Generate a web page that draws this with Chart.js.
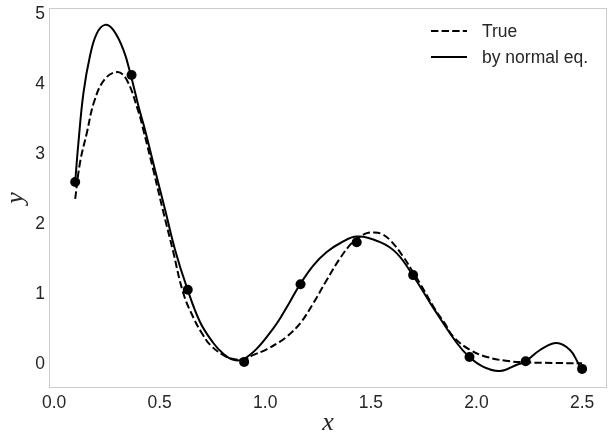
<!DOCTYPE html>
<html>
<head>
<meta charset="utf-8">
<script src="https://cdn.jsdelivr.net/npm/chart.js@4"></script>
<style>
  html, body { margin: 0; padding: 0; background: #fff; }
</style>
</head>
<body>
<canvas id="chart" width="614" height="444"></canvas>
<script>
// sample points
const xPts = [0.1, 0.367, 0.633, 0.9, 1.167, 1.433, 1.7, 1.967, 2.233, 2.5];
const yPts = [2.6, 4.13, 1.06, 0.03, 1.14, 1.74, 1.27, 0.10, 0.04, -0.07];

// true curve
const xTrue = [0.1, 0.123, 0.155, 0.19, 0.24, 0.30, 0.344, 0.40, 0.423, 0.47, 0.515, 0.562, 0.612, 0.66, 0.70, 0.74, 0.80, 0.85, 0.90, 0.944, 1.007, 1.07, 1.102, 1.165, 1.228, 1.291, 1.354, 1.41, 1.449, 1.481, 1.51, 1.55, 1.591, 1.654, 1.694, 1.733, 1.80, 1.85, 1.89, 1.97, 2.05, 2.14, 2.23, 2.36, 2.5];
const yTrue = [2.36, 2.88, 3.3, 3.75, 4.07, 4.17, 4.06, 3.60, 3.34, 2.77, 2.2, 1.63, 1.01, 0.66, 0.44, 0.27, 0.13, 0.07, 0.07, 0.13, 0.21, 0.32, 0.39, 0.58, 0.87, 1.2, 1.51, 1.73, 1.82, 1.87, 1.88, 1.86, 1.77, 1.53, 1.34, 1.15, 0.80, 0.58, 0.39, 0.2, 0.10, 0.045, 0.024, 0.015, 0.01];

// fitted curve (solid line, by normal eq.)
const xFit = [0.1, 0.115, 0.139, 0.17, 0.202, 0.241, 0.281, 0.328, 0.363, 0.40, 0.431, 0.478, 0.526, 0.573, 0.628, 0.691, 0.754, 0.80, 0.849, 0.896, 0.96, 1.038, 1.07, 1.117, 1.165, 1.228, 1.291, 1.354, 1.433, 1.544, 1.623, 1.70, 1.765, 1.80, 1.907, 1.966, 2.033, 2.112, 2.191, 2.23, 2.301, 2.38, 2.443, 2.482, 2.5];
const yFit = [2.6, 3.15, 3.87, 4.40, 4.72, 4.845, 4.77, 4.49, 4.13, 3.68, 3.34, 2.77, 2.2, 1.63, 1.10, 0.60, 0.30, 0.15, 0.06, 0.07, 0.22, 0.51, 0.65, 0.89, 1.14, 1.41, 1.60, 1.725, 1.82, 1.74, 1.58, 1.26, 0.95, 0.78, 0.30, 0.10, -0.04, -0.10, -0.01, 0.03, 0.20, 0.30, 0.20, 0.01, -0.08];

// ticks
const xTicks = [0.0, 0.5, 1.0, 1.5, 2.0, 2.5];
const yTicks = [0, 1, 2, 3, 4, 5];

const legendLabels = ["True", "by normal eq."];

function pairs(xs, ys) {
  return xs.map((x, i) => ({ x: x, y: ys[i] }));
}

const tickFont = { family: "'Liberation Sans', Arial, sans-serif", size: 17.5 };
const textColor = '#262626';

// frame, legend and axis titles
const extras = {
  id: 'extras',
  beforeDatasetsDraw(chart) {
    const ctx = chart.ctx;
    const a = chart.chartArea;
    ctx.save();
    ctx.strokeStyle = '#cccccc';
    ctx.lineWidth = 1;
    ctx.strokeRect(a.left + 0.5, a.top + 0.5, a.right - a.left - 1, a.bottom - a.top - 1);
    ctx.restore();
  },
  afterDraw(chart) {
    const ctx = chart.ctx;
    const a = chart.chartArea;
    ctx.save();

    // legend
    const lx = a.right - 176;
    const rows = [a.top + 23, a.top + 49];
    ctx.strokeStyle = '#000';
    ctx.lineWidth = 2;
    rows.forEach((y, i) => {
      ctx.setLineDash(i === 0 ? [7.4, 3.2] : []);
      ctx.beginPath();
      ctx.moveTo(lx, y);
      ctx.lineTo(lx + 36, y);
      ctx.stroke();
    });
    ctx.setLineDash([]);
    ctx.fillStyle = textColor;
    ctx.font = "17.5px 'Liberation Sans', Arial, sans-serif";
    ctx.textAlign = 'left';
    ctx.textBaseline = 'middle';
    legendLabels.forEach((t, i) => ctx.fillText(t, lx + 51, rows[i] + 1));

    // axis titles
    ctx.fillStyle = textColor;
    ctx.font = "italic 26px 'Liberation Serif', 'DejaVu Serif', serif";
    ctx.textAlign = 'center';
    ctx.fillText('x', (a.left + a.right) / 2, 423);
    ctx.translate(16, (a.top + a.bottom) / 2);
    ctx.rotate(-Math.PI / 2);
    ctx.fillText('y', 0, 0);
    ctx.restore();
  }
};

new Chart(document.getElementById('chart'), {
  type: 'scatter',
  data: {
    datasets: [
      {
        label: 'data',
        data: pairs(xPts, yPts),
        showLine: false,
        pointRadius: 5,
        pointBackgroundColor: '#000',
        pointBorderWidth: 0
      },
      {
        label: legendLabels[1],
        data: pairs(xFit, yFit),
        showLine: true,
        borderColor: '#000',
        borderWidth: 2,
        pointRadius: 0,
        tension: 0.4
      },
      {
        label: legendLabels[0],
        data: pairs(xTrue, yTrue),
        showLine: true,
        borderColor: '#000',
        borderWidth: 2,
        borderDash: [7.4, 3.2],
        pointRadius: 0,
        tension: 0.4
      }
    ]
  },
  options: {
    responsive: false,
    animation: false,
    devicePixelRatio: 1,
    layout: { padding: { top: 8, right: 7, left: 0, bottom: 0 } },
    plugins: {
      legend: { display: false },
      tooltip: { enabled: false }
    },
    scales: {
      x: {
        type: 'linear',
        min: -0.024,
        max: 2.618,
        grid: { display: false, drawTicks: false },
        border: { display: false },
        afterBuildTicks: s => { s.ticks = xTicks.map(v => ({ value: v })); },
        afterFit: s => { s.height = 56; s.paddingLeft = 0; s.paddingRight = 0; },
        ticks: {
          padding: 5,
          font: tickFont,
          color: textColor,
          maxRotation: 0,
          autoSkip: false,
          callback: v => Number(v).toFixed(1)
        }
      },
      y: {
        type: 'linear',
        min: -0.343,
        max: 5.086,
        grid: { display: false, drawTicks: false },
        border: { display: false },
        afterBuildTicks: s => { s.ticks = yTicks.map(v => ({ value: v })); },
        afterFit: s => { s.width = 49; s.paddingTop = 0; s.paddingBottom = 0; },
        ticks: {
          padding: 4,
          font: tickFont,
          color: textColor,
          autoSkip: false,
          callback: v => String(v)
        }
      }
    }
  },
  plugins: [extras]
});
</script>
</body>
</html>
